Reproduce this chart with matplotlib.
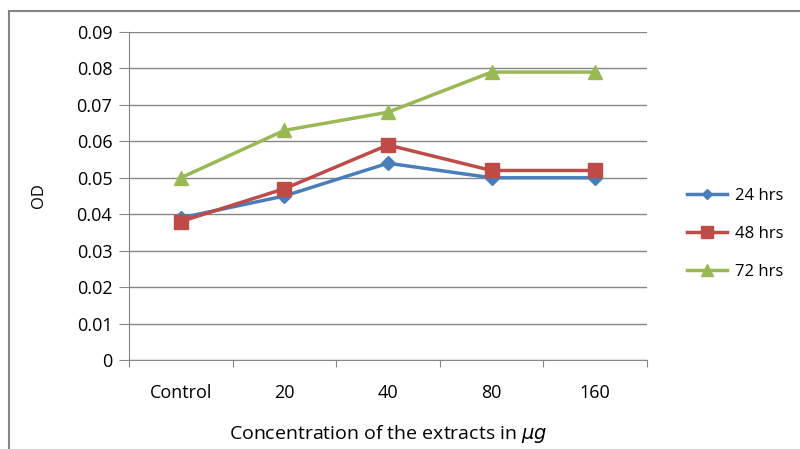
import numpy as np
import matplotlib
matplotlib.use('Agg')
import matplotlib.pyplot as plt
from matplotlib.lines import Line2D

# 数据
categories = ['Control', '20', '40', '80', '160']
hrs_24 = [0.039, 0.045, 0.054, 0.050, 0.050]
hrs_48 = [0.038, 0.047, 0.059, 0.052, 0.052]
hrs_72 = [0.050, 0.063, 0.068, 0.079, 0.079]
series_labels = ['24 hrs', '48 hrs', '72 hrs']
y_ticks = [0, 0.01, 0.02, 0.03, 0.04, 0.05, 0.06, 0.07, 0.08, 0.09]

plt.rcParams['font.family'] = ['Open Sans', 'DejaVu Sans']

fig = plt.figure(figsize=(8, 4.49), dpi=100)
ax = fig.add_axes([129 / 800, 89 / 449, 518 / 800, 328 / 449])

x = np.arange(len(categories))
styles = [('#4A7EBB', 'D', 7), ('#BE4B48', 's', 10), ('#98B954', '^', 10)]
for ys, label, (col, mk, ms) in zip([hrs_24, hrs_48, hrs_72], series_labels, styles):
    ax.plot(x, ys, color=col, marker=mk, markersize=ms, linewidth=2.5, label=label)

ax.set_xlim(-0.5, len(categories) - 0.5)
ax.set_ylim(0, 0.09)
ax.set_yticks(y_ticks)
ax.set_yticklabels(['0'] + ['%.2f' % v for v in y_ticks[1:]])
ax.yaxis.grid(True, color='#868686', linewidth=1)
ax.set_axisbelow(True)

# x刻度在类别之间
ax.set_xticks(np.arange(-0.5, len(categories), 1.0))
ax.set_xticklabels([])
ax.set_xticks(x, minor=True)
ax.set_xticklabels(categories, minor=True)
ax.tick_params(axis='x', which='minor', length=0, pad=17, labelsize=13)
ax.tick_params(axis='x', which='major', length=5, color='#868686')
ax.tick_params(axis='y', length=7, color='#868686', pad=5, labelsize=13)

for s in ['top', 'right']:
    ax.spines[s].set_visible(False)
for s in ['left', 'bottom']:
    ax.spines[s].set_color('#868686')

ax.set_ylabel('OD', fontsize=12)
ax.yaxis.set_label_coords(-(129 - 47) / 518, 0.5)
ax.set_xlabel(r'Concentration of the extracts in $\mu g$', fontsize=14)
ax.xaxis.set_label_coords(0.5, -(423 - 360) / 328)

fig.legend(loc='center left', bbox_to_anchor=(672 / 800, 1 - 234 / 449),
           frameon=False, fontsize=12, handlelength=2.4, handletextpad=0.5,
           labelspacing=1.3, markerscale=0.8)

# 外框
fig.add_artist(Line2D([9 / 800, 9 / 800], [0, 1 - 11 / 449], transform=fig.transFigure,
                      color='#868686', linewidth=1.5))
fig.add_artist(Line2D([9 / 800, 1], [1 - 11 / 449, 1 - 11 / 449], transform=fig.transFigure,
                      color='#868686', linewidth=1.5))

fig.savefig('out.png', dpi=100)
